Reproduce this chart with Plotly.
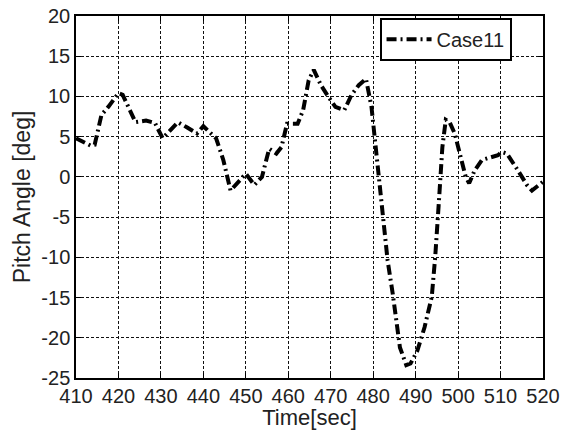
import plotly.graph_objects as go

time_sec = [410, 413.4, 414.4, 416, 417.6, 420, 421, 424, 426.5, 428.6, 430.4, 434, 436,
            438.5, 440, 443, 444.7, 446.4, 450, 452, 453.8, 455.5, 457.2, 458.4, 459.7,
            462.2, 463.5, 464.8, 466, 467.7, 469.4, 471.1, 473.2, 474.9, 476.6, 478.3,
            479.6, 480.4, 481.3, 482.1, 483.4, 484.6, 485.4, 486.3, 487.8, 488.8, 490.4,
            492.1, 493.8, 494.6, 495.5, 496.3, 497.1, 498, 499.2, 500.5, 501.8, 502.6,
            503.9, 505.6, 507.7, 509.4, 510.3, 511.5, 514.1, 516.2, 517.4, 518.7, 520]
pitch_deg = [4.8, 3.9, 4.0, 7.7, 8.7, 10.4, 10.2, 6.8, 7.0, 6.7, 4.8, 6.8, 6.2,
             5.4, 6.3, 4.8, 2.1, -1.7, 0.4, -1.0, 0.0, 3.5, 2.9, 3.7, 6.6,
             6.6, 8.3, 12.0, 13.3, 11.4, 10.0, 8.7, 8.3, 10.2, 11.4, 12.2,
             8.7, 4.6, -0.4, -4.6, -10.4, -14.5, -17.8, -21.2, -23.4, -23.2, -21.6,
             -18.7, -14.9, -10.0, -2.9, 3.7, 7.1, 6.8, 5.4, 2.9, 0.0, -0.8,
             0.8, 2.1, 2.5, 2.7, 3.1, 2.9, 0.8, -1.0, -1.7, -1.2, -0.6]

x_ticks = list(range(410, 521, 10))
x_tick_labels = [str(v) for v in x_ticks]
y_ticks = list(range(-25, 21, 5))
y_tick_labels = [str(v) for v in y_ticks]
series_name = "Case11"

FONT = "Liberation Sans, Arial, sans-serif"

fig = go.Figure()
fig.add_trace(go.Scatter(
    x=time_sec, y=pitch_deg, mode="lines", name=series_name,
    line=dict(color="black", width=4, dash="10px,4px,2px,4px"),
))

axis_common = dict(
    showline=True, linecolor="black", linewidth=1.5, mirror="ticks",
    ticks="inside", ticklen=5, tickcolor="black",
    showgrid=True, gridcolor="#111", gridwidth=1, griddash="3px,2px",
    zeroline=False, automargin=False,
    tickfont=dict(family=FONT, size=20, color="#222"),
)

fig.update_xaxes(range=[410, 520], tickvals=x_ticks, ticktext=x_tick_labels, ticklabelstandoff=-1,
                 title=dict(text="Time[sec]", font=dict(family=FONT, size=22, color="#222"), standoff=4),
                 **axis_common)
fig.update_yaxes(range=[-25, 20], tickvals=y_ticks, ticktext=y_tick_labels,
                 title=dict(text="Pitch Angle [deg]", font=dict(family=FONT, size=23, color="#222"), standoff=4),
                 **axis_common)

fig.update_layout(
    width=564, height=430,
    margin=dict(l=76, r=21, t=16, b=52),
    paper_bgcolor="white", plot_bgcolor="white",
    showlegend=True,
    legend=dict(x=0.65, y=0.995, xanchor="left", yanchor="top",
                bgcolor="white", bordercolor="black", borderwidth=2,
                itemwidth=45, entrywidth=130, tracegroupgap=0,
                font=dict(family=FONT, size=20, color="#222")),
)

fig.write_html("out.html")
